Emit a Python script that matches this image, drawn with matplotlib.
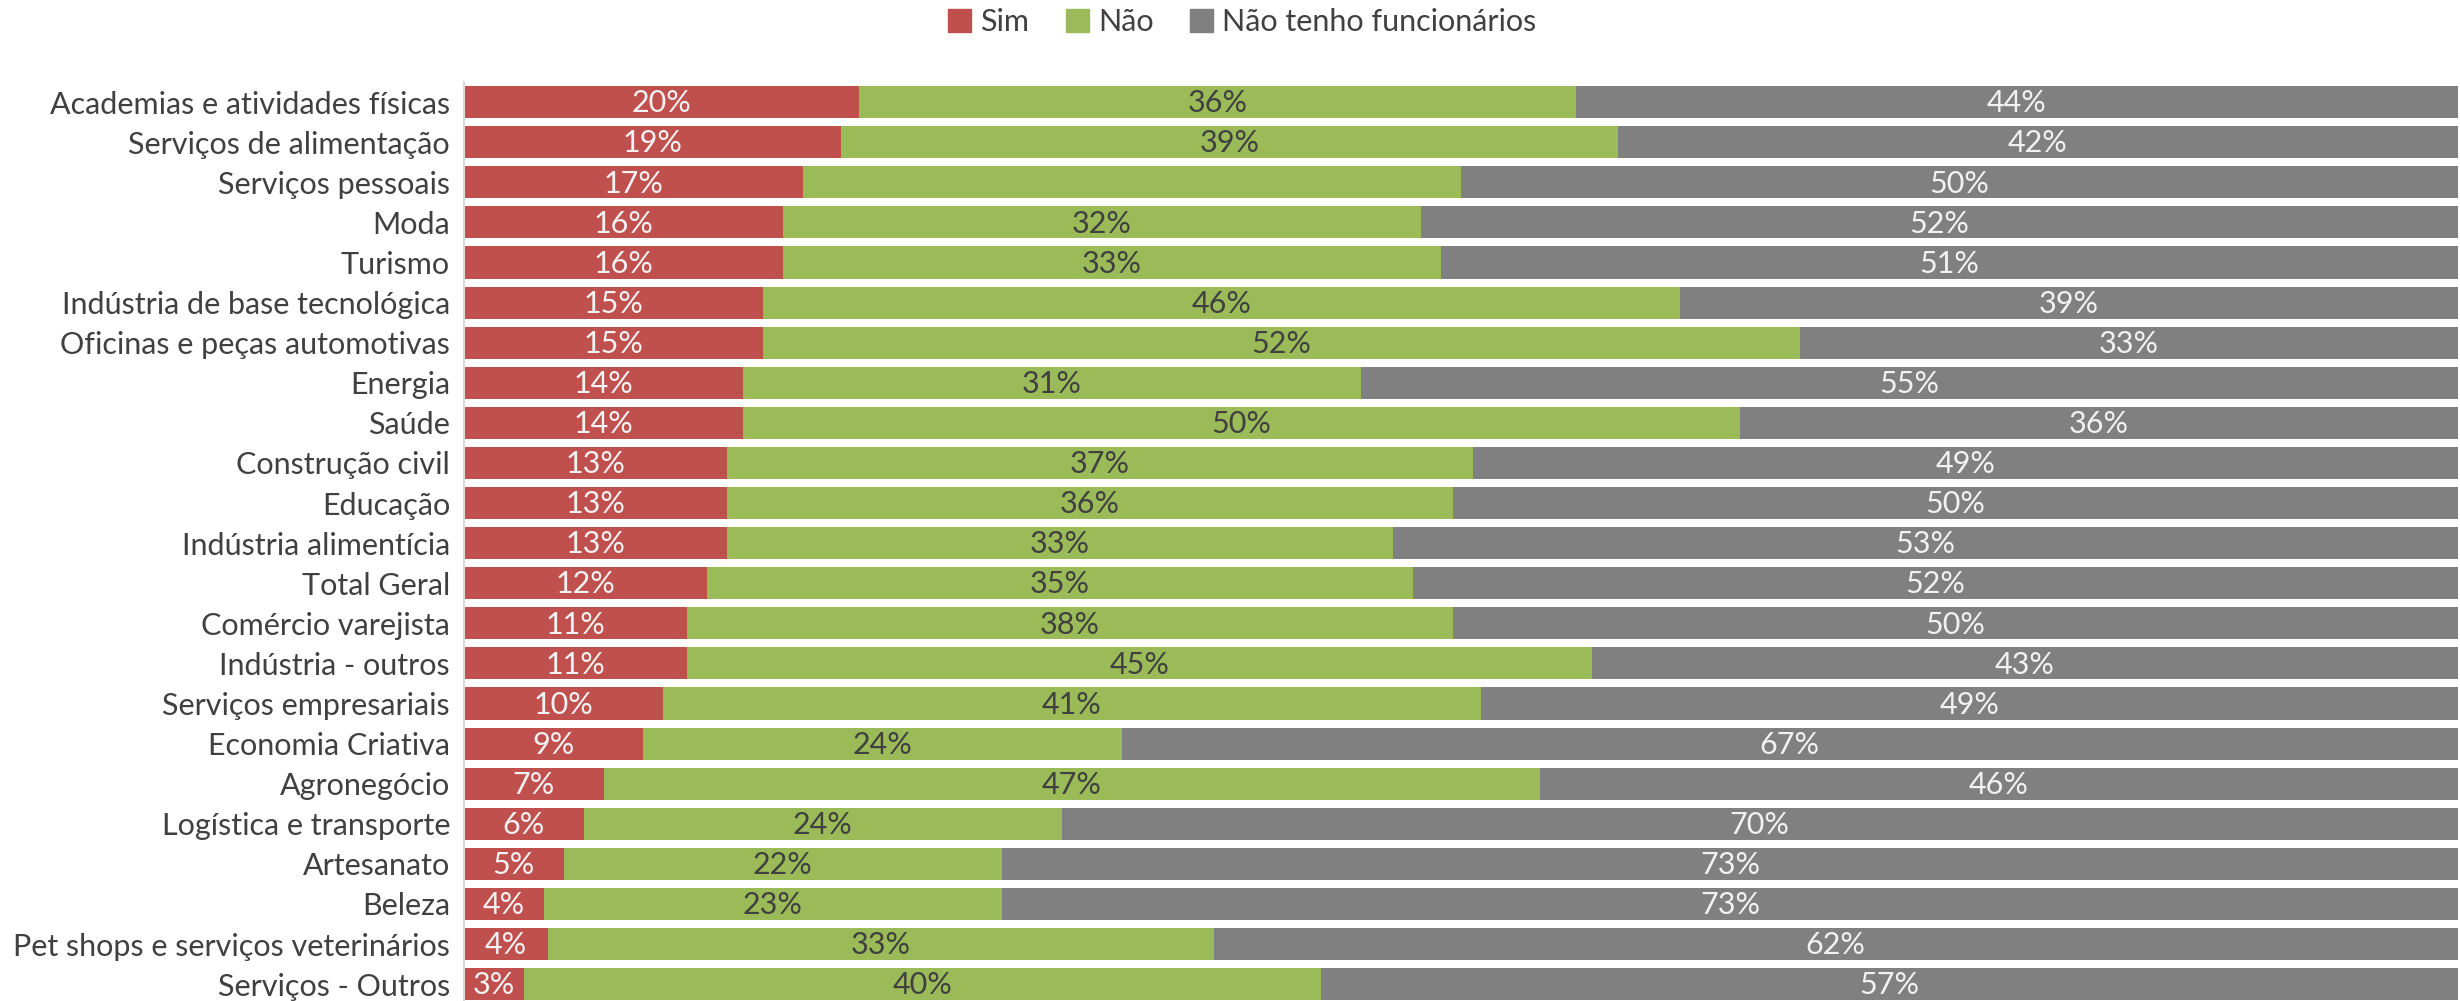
import matplotlib
matplotlib.use("Agg")
import matplotlib.pyplot as plt
from matplotlib.patches import Patch
import numpy as np

plt.rcParams['font.family'] = ['Lato', 'DejaVu Sans']

categories = [
    "Academias e atividades físicas", "Serviços de alimentação", "Serviços pessoais",
    "Moda", "Turismo", "Indústria de base tecnológica", "Oficinas e peças automotivas",
    "Energia", "Saúde", "Construção civil", "Educação", "Indústria alimentícia",
    "Total Geral", "Comércio varejista", "Indústria - outros", "Serviços empresariais",
    "Economia Criativa", "Agronegócio", "Logística e transporte", "Artesanato",
    "Beleza", "Pet shops e serviços veterinários", "Serviços - Outros",
]
sim = [19.8, 18.9, 17, 16, 16, 15, 15, 14, 14, 13.2, 13.2, 13.2, 12.2, 11.2, 11.2, 10,
       9, 7, 6, 5, 4, 4.2, 3]
nao = [36, 39, 33, 32, 33, 46, 52, 31, 50, 37.4, 36.4, 33.4, 35.4, 38.4, 45.4, 41,
       24, 47, 24, 22, 23, 33.4, 40]
sem_func = [44.2, 42.1, 50, 52, 51, 39, 33, 55, 36, 49.4, 50.4, 53.4, 52.4, 50.4, 43.4, 49,
            67, 46, 70, 73, 73, 62.4, 57]
series_names = ["Sim", "Não", "Não tenho funcionários"]
# green label not shown in the original for this row
hidden_nao = ["Serviços pessoais"]

colors = ["#C0504D", "#9BBB59", "#808080"]
text_colors = ["#F2F2F2", "#404040", "#F2F2F2"]

fig = plt.figure(figsize=(24.6, 10.01), dpi=100)
ax = fig.add_axes([0.1886, 0.0, 0.8104, 0.918])

y = np.arange(len(categories))
left = np.zeros(len(categories))
for i, vals in enumerate([sim, nao, sem_func]):
    vals = np.array(vals, dtype=float)
    ax.barh(y, vals, left=left, height=0.8, color=colors[i], edgecolor='none')
    for j, v in enumerate(vals):
        if i == 1 and categories[j] in hidden_nao:
            continue
        ax.text(left[j] + v / 2, y[j] + 0.03, "{:.0f}%".format(v), ha='center', va='center',
                fontsize=22, color=text_colors[i])
    left += vals

ax.set_xlim(0, 100)
ax.set_ylim(22.42, -0.5)
ax.set_yticks(y)
ax.set_yticklabels(categories, fontsize=22, color="#404040")
ax.tick_params(axis='y', length=0, pad=10)
ax.set_xticks([])
for s in ['top', 'right', 'bottom']:
    ax.spines[s].set_visible(False)
ax.spines['left'].set_color("#D9D9D9")
ax.spines['left'].set_linewidth(1.5)

handles = [Patch(color=c) for c in colors]
fig.legend(handles, series_names, loc='center', bbox_to_anchor=(0.505, 0.978), ncol=3,
           frameon=False, fontsize=22, handlelength=0.75, handleheight=0.75,
           handletextpad=0.3, columnspacing=1.2, labelcolor="#404040")

fig.savefig("out.png", dpi=100)
